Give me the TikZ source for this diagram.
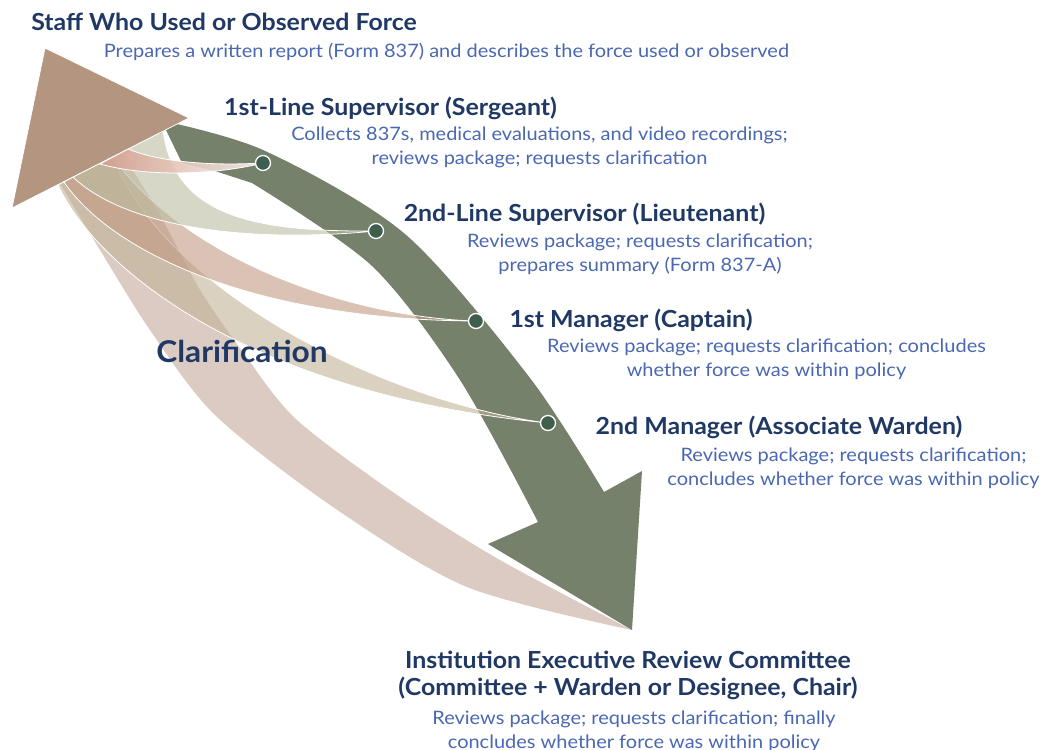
\documentclass[tikz,border=0pt]{standalone}
\usepackage{fontspec}
\setmainfont{Lato}
\newfontfamily\headfam[FakeStretch=1.06]{Lato}
\newfontfamily\descfam[FakeStretch=1.08]{Lato}
\newfontfamily\clarfam[FakeStretch=1.056]{Lato}

\definecolor{navy}{HTML}{1F3864}
\definecolor{bluetext}{HTML}{4A67B2}
\definecolor{arrowgreen}{HTML}{75816A}
\definecolor{stopgreen}{HTML}{3F5E4D}
\definecolor{headtan}{HTML}{B4957F}
\definecolor{bandpink}{HTML}{DCCBC3}
\definecolor{bandbeige}{HTML}{C1B296}
\definecolor{bandrose}{HTML}{C19982}
\definecolor{bandsage}{HTML}{BBBCA0}
\definecolor{bandsalmon}{HTML}{D49E8C}

\newcommand{\headfont}{\headfam\fontsize{23.5}{27}\selectfont\bfseries}
\newcommand{\descfont}{\descfam\fontsize{18.5}{24}\selectfont}

\begin{document}
\begin{tikzpicture}[
    x=1pt, y=-1pt,
    header/.style={font=\headfont, text=navy, anchor=base, inner sep=0pt, align=center},
    detail/.style={font=\descfont, text=bluetext, anchor=base, inner sep=0pt, align=center},
    stop/.style={circle, fill=stopgreen, draw=white, line width=1.3pt, minimum size=15pt, inner sep=0pt},
    band/.style={fill opacity=0.6, draw=white, line width=0.8pt}
]
    \useasboundingbox (0,0) rectangle (1042,750);

    % Stops on the main arrow
    \coordinate (c1) at (263,163);
    \coordinate (c2) at (376,231);
    \coordinate (c3) at (476,321);
    \coordinate (c4) at (548,423);
    \coordinate (tip) at (632,630);

    % Big return band (bottom)
    \fill[bandpink] plot[smooth] coordinates {(55,175) (100,250) (150,330) (215,415) (333,507) (467,587) (tip)}
        -- plot[smooth] coordinates {(tip) (500,560) (400,497) (297,420) (245,355) (200,290) (160,215) (120,150)} -- cycle;

    % Main arrow (green)
    \fill[arrowgreen] plot[smooth] coordinates {(150,118) (263,150) (405,234) (530,378) (604,492)}
        -- (642,471) -- (tip) -- (488,544)
        -- plot[smooth] coordinates {(538,522) (460,380) (372,266) (252,183)}
        -- (215,171) -- (182,163) -- (165,128) -- cycle;

    % Clarification bands
    \path[band, fill=bandbeige] (58,185) .. controls (100,275) and (260,395) .. (c4)
        .. controls (400,405) and (170,300) .. (112,156) -- cycle;
    \path[band, fill=bandrose] (64,182) .. controls (110,250) and (250,320) .. (c3)
        .. controls (360,318) and (190,265) .. (112,156) -- cycle;
    \path[band, fill=bandsage] (73,177) .. controls (120,222) and (230,245) .. (c2)
        .. controls (250,232) and (175,215) .. (163,131) -- cycle;
    \path[band, fill opacity=0.9, left color=bandsalmon, right color=bandsalmon!15] (100,164) .. controls (150,178) and (220,174) .. (c1)
        .. controls (210,166) and (160,162) .. (128,149) -- cycle;

    % Arrow head (top left)
    \filldraw[fill=headtan, draw=white, line width=0.8pt] (45,48) -- (189,118) -- (12,208) -- cycle;

    % Stop markers
    \node[stop] (s1) at (c1) {};
    \node[stop] (s2) at (c2) {};
    \node[stop] (s3) at (c3) {};
    \node[stop] (s4) at (c4) {};

    % Staff (top)
    \node[header] (staff) at (224,30) {Staff Who Used or Observed Force};
    \node[detail] (staffd) at (446.5,57) {Prepares a written report (Form 837) and describes the force used or observed};

    % Sergeant
    \node[header] (sgt) at (390.5,115) {1st-Line Supervisor (Sergeant)};
    \node[detail] (sgtd) at (539.5,164) {Collects 837s, medical evaluations, and video recordings;\\reviews package; requests clarification};

    % Lieutenant
    \node[header] (lt) at (584.5,221) {2nd-Line Supervisor (Lieutenant)};
    \node[detail] (ltd) at (640,271) {Reviews package; requests clarification;\\prepares summary (Form 837-A)};

    % Captain
    \node[header] (cpt) at (631,327) {1st Manager (Captain)};
    \node[detail] (cptd) at (766.5,376) {Reviews package; requests clarification; concludes\\whether force was within policy};

    % Associate Warden
    \node[header] (aw) at (779,434) {2nd Manager (Associate Warden)};
    \node[detail] (awd) at (853.5,485) {Reviews package; requests clarification;\\concludes whether force was within policy};

    % Committee (bottom)
    \node[header] (ierc) at (628,695) {Institution Executive Review Committee\\(Committee + Warden or Designee, Chair)};
    \node[detail] (iercd) at (634,748) {Reviews package; requests clarification; finally\\concludes whether force was within policy};

    % Band label
    \node[font=\clarfam\fontsize{30}{34}\selectfont\bfseries, text=navy, anchor=base, inner sep=0pt] (clar) at (242,362) {Clarification};
\end{tikzpicture}
\end{document}
